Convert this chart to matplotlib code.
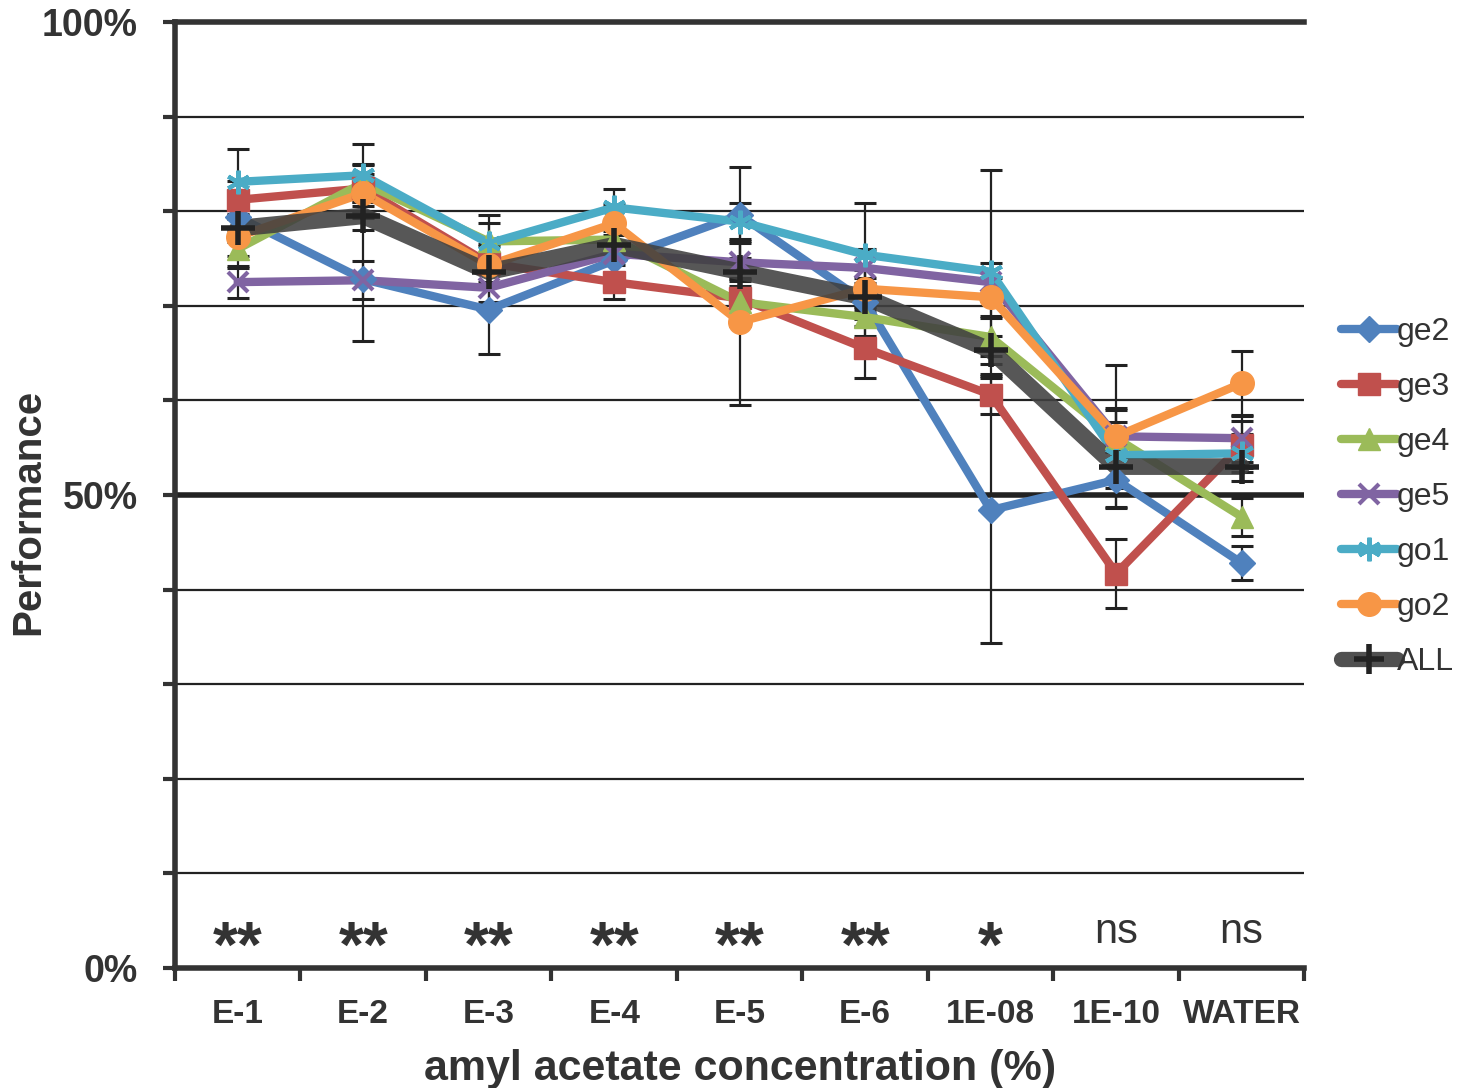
import numpy as np
import matplotlib
matplotlib.use("Agg")
import matplotlib.pyplot as plt
from matplotlib.lines import Line2D

plt.rcParams['font.family'] = ['Liberation Sans', 'DejaVu Sans']

# data (percent)
categories = ['E-1', 'E-2', 'E-3', 'E-4', 'E-5', 'E-6', '1E-08', '1E-10', 'WATER']
signif = ['**', '**', '**', '**', '**', '**', '*', 'ns', 'ns']

ge2 = [79.4, 72.8, 69.6, 74.8, 79.6, 70.4, 48.4, 51.6, 42.8]
ge2_err = [2.0, 6.5, 4.7, 2.0, 5.1, 2.5, 14.0, 3.0, 1.8]
ge3 = [81.2, 82.4, 74.5, 72.5, 70.8, 65.5, 60.6, 41.7, 55.3]
ge3_err = [2.0, 2.5, 2.0, 1.8, 2.0, 3.1, 2.0, 3.6, 2.5]
ge4 = [76.0, 83.0, 76.8, 77.0, 70.4, 68.8, 66.7, 56.0, 47.7]
ge4_err = [2.0, 2.0, 2.0, 2.0, 2.5, 2.0, 2.0, 3.0, 2.0]
ge5 = [72.5, 72.7, 71.9, 75.5, 74.6, 74.0, 72.5, 56.2, 56.0]
ge5_err = [1.7, 2.0, 1.5, 2.0, 2.0, 2.0, 2.0, 3.0, 2.5]
go1 = [83.1, 83.8, 76.6, 80.4, 78.9, 75.4, 73.6, 54.2, 54.4]
go1_err = [3.5, 3.3, 3.0, 1.9, 2.0, 5.5, 10.8, 3.5, 2.0]
go2 = [77.3, 81.9, 74.3, 78.7, 68.3, 71.8, 70.9, 56.2, 61.8]
go2_err = [2.0, 2.0, 2.0, 2.0, 8.8, 2.0, 2.0, 7.5, 3.4]
all_ = [78.2, 79.5, 73.6, 76.4, 73.6, 70.9, 65.3, 53.0, 53.0]
all_err = [1.5, 1.5, 1.5, 1.5, 1.5, 1.5, 1.5, 1.5, 1.5]

names = ['ge2', 'ge3', 'ge4', 'ge5', 'go1', 'go2']
series = [ge2, ge3, ge4, ge5, go1, go2]
errs = [ge2_err, ge3_err, ge4_err, ge5_err, go1_err, go2_err]
colors = ['#4F81BD', '#C0504D', '#9BBB59', '#8064A2', '#4BACC6', '#F79646']
markers = ['D', 's', '^', 'x', (6, 2, 0), 'o']
msizes = [13, 16, 16, 15, 17, 17]

fig = plt.figure(figsize=(14.64, 10.88), dpi=100)
ax = fig.add_axes([0.1195, 0.1103, 0.7715, 0.8695])
x = np.arange(len(categories))

# grid
for g in range(10, 100, 10):
    ax.axhline(g, color='#222222', lw=4 if g == 50 else 1.6, zorder=1)

# error bars
for s, e in zip(series + [all_], errs + [all_err]):
    ax.errorbar(x, s, yerr=e, fmt='none', ecolor='#222222', elinewidth=1.6,
                capsize=8, capthick=2.2, zorder=2)

handles = []
for s, n, c, m, ms in zip(series, names, colors, markers, msizes):
    mw = 3 if m in ('x', (6, 2, 0)) else 1
    ax.plot(x, s, color=c, lw=6, zorder=3, solid_capstyle='round')
    ax.plot(x, s, ls='none', marker=m, ms=ms, color=c, mec=c, mew=mw, zorder=5)
    handles.append(Line2D([], [], color=c, lw=6, marker=m, ms=ms, mec=c,
                          mew=mw, solid_capstyle='round'))

ax.plot(x, all_, color='#404040', lw=12, alpha=0.88, zorder=4, solid_capstyle='round')
ax.plot(x, all_, ls='none', marker='+', ms=24, mew=4, color='#222222', zorder=6)
handles.append(Line2D([], [], color='#505050', lw=11, marker='+', ms=22, mew=4,
                      mec='#222222', solid_capstyle='round'))

for xi, t in zip(x, signif):
    if t == 'ns':
        ax.text(xi, 3.8, t, ha='center', va='center', fontsize=30, color='#333333')
    else:
        ax.text(xi, 1.9, t, ha='center', va='center', fontsize=46, fontweight='bold', color='#333333')

ax.set_xlim(-0.5, 8.5)
ax.set_ylim(0, 100)

ax.set_yticks(np.arange(0, 101, 10))
ax.set_yticklabels(['0%' if v == 0 else '50%' if v == 50 else '100%' if v == 100 else '' for v in range(0, 101, 10)],
                   fontsize=27, fontweight='bold', color='#333333')
ax.tick_params(axis='y', length=9, width=3, color='#333333', pad=18)

ax.set_xticks(x)
ax.set_xticklabels(categories, fontsize=24, fontweight='bold', color='#333333')
ax.set_xticks(np.arange(-0.5, 9, 1), minor=True)
ax.tick_params(axis='x', which='major', length=0, pad=22)
ax.tick_params(axis='x', which='minor', length=9, width=3, color='#333333')

for side in ['left', 'bottom', 'top']:
    ax.spines[side].set_linewidth(4)
    ax.spines[side].set_color('#333333')
ax.spines['right'].set_visible(False)

ax.set_xlabel('amyl acetate concentration (%)', fontsize=31, fontweight='bold', color='#333333', labelpad=14)
fig.text(0.0195, 1 - 512 / 1088, 'Performance', rotation=90, ha='center', va='center',
         fontsize=29, fontweight='bold', color='#333333')

fig.legend(handles, names + ['ALL'], loc='center left', bbox_to_anchor=(0.905, 0.543),
           frameon=False, fontsize=23, labelspacing=0.78, handlelength=1.75,
           handletextpad=0.0, borderpad=0, labelcolor='#333333')

fig.savefig('out.png', dpi=100)
